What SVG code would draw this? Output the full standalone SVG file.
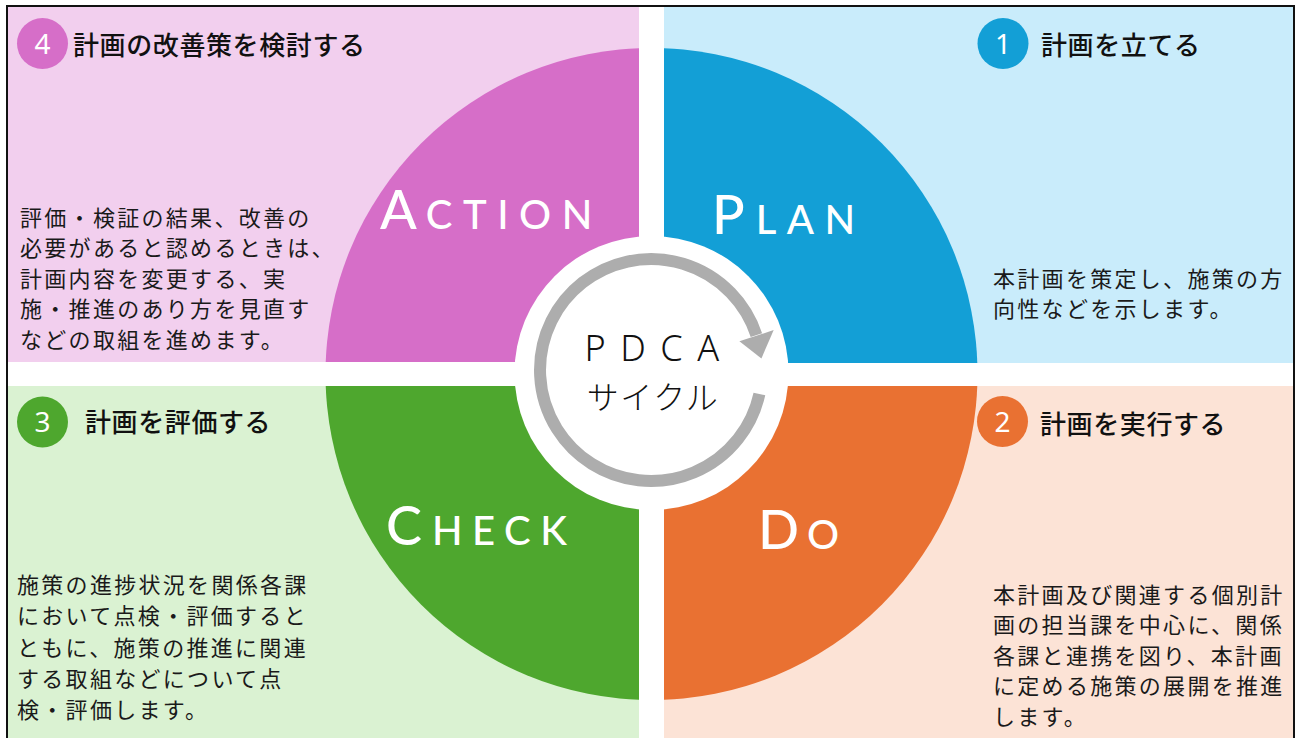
<svg xmlns="http://www.w3.org/2000/svg" width="1298" height="738" viewBox="0 0 1298 738">
  <style>
    .title { font-family: "Noto Sans CJK JP", "Noto Sans", sans-serif; font-size: 26px; font-weight: 500; fill: #111; letter-spacing: 0.6px; }
    .body { font-family: "Noto Sans CJK JP", "Noto Sans", sans-serif; font-size: 22px; fill: #1a1a1a; letter-spacing: 2.3px; }
    .num { font-family: "Noto Sans", "Liberation Sans", sans-serif; font-size: 28px; fill: #fff; text-anchor: middle; }
    .big { font-family: "Lato", "Noto Sans", sans-serif; fill: #fff; font-weight: 500; }
    .center { fill: #111; font-weight: 300; text-anchor: middle; }
  </style>
  <defs>
    <clipPath id="cTL"><rect x="8" y="7" width="631" height="355"/></clipPath>
    <clipPath id="cTR"><rect x="664" y="7" width="629" height="356"/></clipPath>
    <clipPath id="cBL"><rect x="8" y="386" width="631" height="352"/></clipPath>
    <clipPath id="cBR"><rect x="664" y="386" width="629" height="352"/></clipPath>
  </defs>
  <rect x="0" y="0" width="1298" height="738" fill="#fff"/>

  <g id="action">
    <rect x="8" y="7" width="631" height="355" fill="#f2cfee"/>
    <circle cx="651.5" cy="374" r="326" fill="#d66ec8" clip-path="url(#cTL)"/>
    <text class="big" x="380" y="229"><tspan font-size="54">A</tspan><tspan font-size="40" dx="9" letter-spacing="10.5">CTION</tspan></text>
    <circle cx="42.5" cy="43.5" r="25.5" fill="#d66ec8"/>
    <text class="num" x="42.5" y="53.5">4</text>
    <text class="title" x="73" y="55">計画の改善策を検討する</text>
    <text class="body" x="20"><tspan x="20" y="225.5">評価・検証の結果、改善の</tspan><tspan x="20" y="256">必要があると認めるときは、</tspan><tspan x="20" y="286.5">計画内容を変更する、実</tspan><tspan x="20" y="317">施・推進のあり方を見直す</tspan><tspan x="20" y="347.5">などの取組を進めます。</tspan></text>
  </g>

  <g id="plan">
    <rect x="664" y="7" width="629" height="356" fill="#c9ecfb"/>
    <circle cx="651.5" cy="374" r="326" fill="#139fd6" clip-path="url(#cTR)"/>
    <text class="big" x="712" y="234"><tspan font-size="54">P</tspan><tspan font-size="40" dx="11" letter-spacing="10.5">LAN</tspan></text>
    <circle cx="1003" cy="43.5" r="25.5" fill="#139fd6"/>
    <text class="num" x="1003" y="53.5">1</text>
    <text class="title" x="1041" y="55">計画を立てる</text>
    <text class="body"><tspan x="993" y="286.5">本計画を策定し、施策の方</tspan><tspan x="993" y="317">向性などを示します。</tspan></text>
  </g>

  <g id="check">
    <rect x="8" y="386" width="631" height="352" fill="#daf2d2"/>
    <circle cx="651.5" cy="374" r="326" fill="#4ea72e" clip-path="url(#cBL)"/>
    <text class="big" x="386" y="545"><tspan font-size="54">C</tspan><tspan font-size="40" dx="10" letter-spacing="9.5">HECK</tspan></text>
    <circle cx="42.5" cy="422" r="25.5" fill="#4ea72e"/>
    <text class="num" x="42.5" y="432">3</text>
    <text class="title" x="85" y="432">計画を評価する</text>
    <text class="body"><tspan x="17" y="593">施策の進捗状況を関係各課</tspan><tspan x="17" y="624">において点検・評価すると</tspan><tspan x="17" y="655.5">ともに、施策の推進に関連</tspan><tspan x="17" y="687">する取組などについて点</tspan><tspan x="17" y="718">検・評価します。</tspan></text>
  </g>

  <g id="do">
    <rect x="664" y="386" width="629" height="352" fill="#fce3d6"/>
    <circle cx="651.5" cy="374" r="326" fill="#e97132" clip-path="url(#cBR)"/>
    <text class="big" x="758" y="549"><tspan font-size="54">D</tspan><tspan font-size="40" dx="8" letter-spacing="10">O</tspan></text>
    <circle cx="1002.5" cy="421.5" r="25.5" fill="#e97132"/>
    <text class="num" x="1002.5" y="431.5">2</text>
    <text class="title" x="1040" y="434">計画を実行する</text>
    <text class="body"><tspan x="993" y="603">本計画及び関連する個別計</tspan><tspan x="993" y="633">画の担当課を中心に、関係</tspan><tspan x="993" y="663.5">各課と連携を図り、本計画</tspan><tspan x="993" y="694">に定める施策の展開を推進</tspan><tspan x="993" y="724.5">します。</tspan></text>
  </g>

  <g id="cycle">
    <circle cx="651.5" cy="373" r="137" fill="#fff"/>
    <text class="center" x="659" y="361" font-size="36" letter-spacing="14.5" font-family="'Noto Sans', 'Liberation Sans', sans-serif">PDCA</text>
    <text class="center" x="653" y="409" font-size="32" letter-spacing="1.5" font-family="'Noto Sans CJK JP', 'Noto Sans', sans-serif">サイクル</text>
  </g>

  <g id="connectors">
    <path d="M 759.4 394 A 111 111 0 1 1 756.4 335.1" fill="none" stroke="#adadad" stroke-width="12"/>
    <polygon points="739.4,341.3 773.7,330.1 761.4,358.4" fill="#adadad"/>
  </g>

  <path d="M7 745 V6 H1294 V745" fill="none" stroke="#111" stroke-width="2"/>
</svg>
